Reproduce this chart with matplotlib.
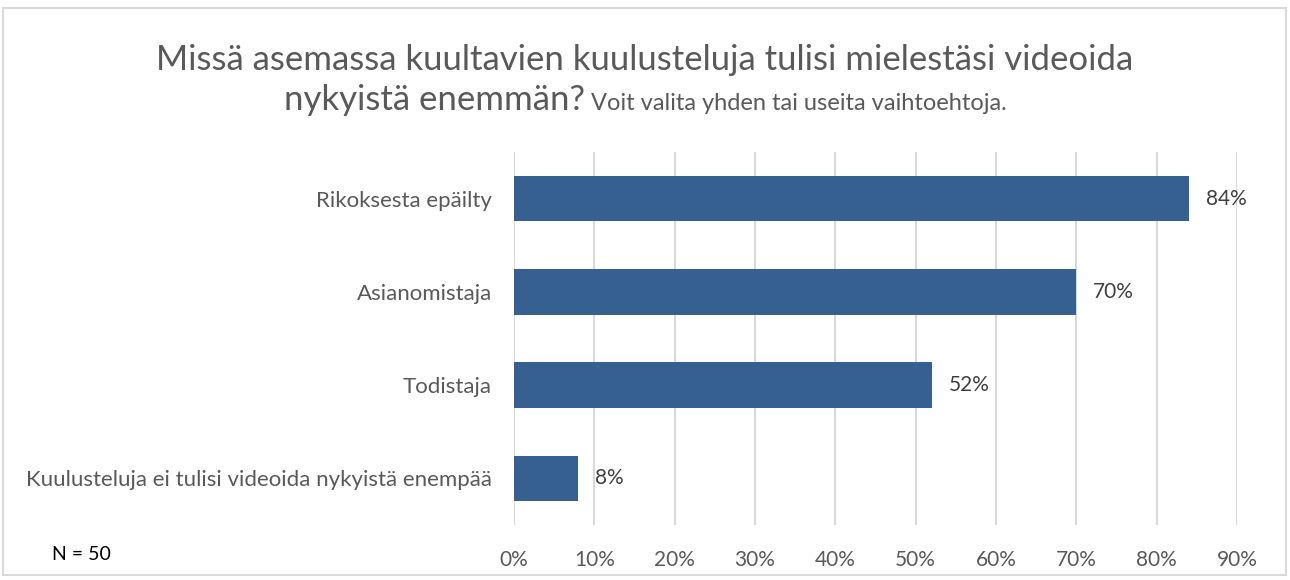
import matplotlib

matplotlib.use("Agg")
import matplotlib.pyplot as plt
from matplotlib.patches import Rectangle

categories = ["Rikoksesta epäilty", "Asianomistaja", "Todistaja",
              "Kuulusteluja ei tulisi videoida nykyistä enempää"]
values = [84, 70, 52, 8]
xticks = [0, 10, 20, 30, 40, 50, 60, 70, 80, 90]

plt.rcParams["font.family"] = ["Lato", "DejaVu Sans"]
BAR = "#36608F"
GRID = "#D9D9D9"
TXT = "#595959"

fig = plt.figure(figsize=(12.9, 5.8), dpi=100)
ax = fig.add_axes([0.3984, 0.0948, 0.5605, 0.6432])

ypos = range(len(categories))
ax.barh(ypos, values, height=0.49, color=BAR, zorder=3)
for y, v in zip(ypos, values):
    ax.text(v + 2.1, y, f"{v}%", va="center", ha="left", fontsize=15, color="#404040")

ax.set_ylim(len(categories) - 0.5, -0.5)
ax.set_xlim(0, 90)
ax.set_yticks(list(ypos))
ax.set_yticklabels(categories, fontsize=16, color=TXT)
ax.set_xticks(xticks)
ax.set_xticklabels([f"{t}%" for t in xticks], fontsize=15, color=TXT)
ax.tick_params(length=0)
ax.tick_params(axis="y", pad=16)
ax.tick_params(axis="x", pad=18)
ax.xaxis.grid(True, color=GRID, lw=1.5, zorder=0)
for s in ax.spines.values():
    s.set_visible(False)

# title: first line, then a second line with mixed sizes centred together
fig.text(0.5, 1 - 60 / 580, "Missä asemassa kuultavien kuulusteluja tulisi mielestäsi videoida",
         ha="center", va="center", fontsize=25, color=TXT)
big = fig.text(0, 1 - 100 / 580, "nykyistä enemmän?", ha="left", va="baseline",
               fontsize=25, color=TXT)
small = fig.text(0, 1 - 100 / 580, " Voit valita yhden tai useita vaihtoehtoja.", ha="left",
                 va="baseline", fontsize=17, color=TXT)
fig.canvas.draw()
r = fig.canvas.get_renderer()
wb = big.get_window_extent(r).width / fig.bbox.width
ws = small.get_window_extent(r).width / fig.bbox.width
x0 = 0.5 - (wb + ws) / 2
big.set_x(x0)
small.set_x(x0 + wb)
big.set_y(1 - 110 / 580)
small.set_y(1 - 110 / 580)

fig.text(52 / 1290, 1 - 555 / 580, "N = 50", ha="left", va="center", fontsize=14, color="black")

fig.patches.append(Rectangle((3 / 1290, 5 / 580), 1283 / 1290, 567 / 580, transform=fig.transFigure,
                             fill=False, edgecolor=GRID, lw=1.5))

fig.savefig("out.png", dpi=100, facecolor="white")
